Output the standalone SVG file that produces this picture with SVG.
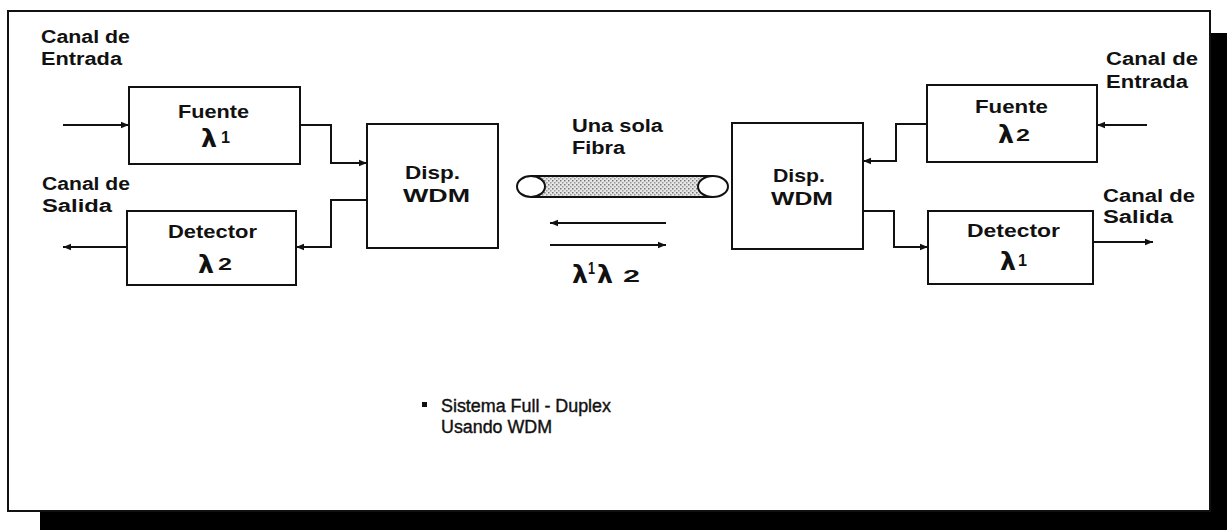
<svg xmlns="http://www.w3.org/2000/svg" width="1227" height="530" viewBox="0 0 1227 530">
<style>
.t{font-family:"Liberation Sans",Arial,sans-serif;font-weight:bold;font-size:18px;fill:#111}
.r{font-family:"Liberation Sans",Arial,sans-serif;font-weight:normal;font-size:18px;fill:#111;stroke:#111;stroke-width:0.4}
.l{font-family:"DejaVu Sans","Liberation Sans",sans-serif;font-weight:bold;font-size:24px;fill:#111}
.n{font-family:"Liberation Sans",Arial,sans-serif;font-weight:bold;font-size:17px;fill:#111}
.box{fill:#fff;stroke:#111;stroke-width:2}
.c{fill:none;stroke:#111;stroke-width:2}
</style>
<defs>
<marker id="ah" viewBox="0 0 10 10" refX="10" refY="5" markerWidth="4" markerHeight="4" orient="auto" markerUnits="strokeWidth">
<path d="M0,1 L10,5 L0,9 z" fill="#111"/>
</marker>
<pattern id="dots" width="4" height="4" patternUnits="userSpaceOnUse">
<rect width="4" height="4" fill="#e6e6e6"/>
<rect x="0" y="0" width="1.5" height="1.5" fill="#777"/>
<rect x="2" y="2" width="1.5" height="1.5" fill="#999"/>
</pattern>
</defs>
<rect x="0" y="0" width="1227" height="530" fill="#fff"/>
<!-- frame and shadow -->
<rect x="1210" y="33" width="17" height="497" fill="#000"/>
<rect x="40" y="512" width="1187" height="18" fill="#000"/>
<rect x="8" y="11" width="1202" height="500" fill="none" stroke="#111" stroke-width="2"/>

<g id="connectors">
<path class="c" d="M63,125 H129" marker-end="url(#ah)"/>
<path class="c" d="M300,125 H331 V163 H367" marker-end="url(#ah)"/>
<path class="c" d="M367,200 H331 V247 H296" marker-end="url(#ah)"/>
<path class="c" d="M127,247 H63" marker-end="url(#ah)"/>
<path class="c" d="M1147,125 H1097" marker-end="url(#ah)"/>
<path class="c" d="M927,124 H896 V161 H863" marker-end="url(#ah)"/>
<path class="c" d="M863,211 H894 V247 H928" marker-end="url(#ah)"/>
<path class="c" d="M1093,242 H1153" marker-end="url(#ah)"/>
<path class="c" d="M666,223 H550" marker-end="url(#ah)"/>
<path class="c" d="M550,245 H666" marker-end="url(#ah)"/>
</g>

<g id="fuente1">
<rect class="box" x="129" y="87" width="171" height="77"/>
<text class="t" x="178" y="118" textLength="71" lengthAdjust="spacingAndGlyphs">Fuente</text>
<text class="l" x="201" y="147" textLength="16" lengthAdjust="spacingAndGlyphs">λ</text>
<text class="n" x="221" y="143" textLength="9" lengthAdjust="spacingAndGlyphs">1</text>
</g>
<g id="detector2">
<rect class="box" x="127" y="211" width="169" height="74"/>
<text class="t" x="168" y="238" textLength="89" lengthAdjust="spacingAndGlyphs">Detector</text>
<text class="l" x="198" y="273" textLength="16" lengthAdjust="spacingAndGlyphs">λ</text>
<text class="n" x="218" y="270" textLength="14" lengthAdjust="spacingAndGlyphs">2</text>
</g>
<g id="wdm1">
<rect class="box" x="367" y="124" width="131" height="124"/>
<text class="t" x="405" y="179" textLength="55" lengthAdjust="spacingAndGlyphs">Disp.</text>
<text class="t" x="403" y="202" textLength="67" lengthAdjust="spacingAndGlyphs">WDM</text>
</g>
<g id="fibra">
<rect x="531" y="176" width="182" height="21" fill="url(#dots)"/>
<line x1="531" y1="176" x2="713" y2="176" class="c"/>
<line x1="531" y1="197" x2="713" y2="197" class="c"/>
<ellipse cx="531" cy="186.5" rx="14" ry="10.5" class="box"/>
<ellipse cx="713" cy="186.5" rx="15" ry="10.5" class="box"/>
<text class="t" x="572" y="132" textLength="91" lengthAdjust="spacingAndGlyphs">Una sola</text>
<text class="t" x="572" y="154" textLength="53" lengthAdjust="spacingAndGlyphs">Fibra</text>
<text class="l" x="572" y="283" font-size="27" textLength="16" lengthAdjust="spacingAndGlyphs">λ</text>
<text class="n" x="588" y="274" font-size="13" textLength="7" lengthAdjust="spacingAndGlyphs">1</text>
<text class="l" x="597" y="283" font-size="27" textLength="16" lengthAdjust="spacingAndGlyphs">λ</text>
<text class="n" x="623" y="282" font-size="22" textLength="17" lengthAdjust="spacingAndGlyphs">2</text>
</g>
<g id="wdm2">
<rect class="box" x="732" y="123" width="131" height="126"/>
<text class="t" x="773" y="182" textLength="52" lengthAdjust="spacingAndGlyphs">Disp.</text>
<text class="t" x="771" y="205" textLength="62" lengthAdjust="spacingAndGlyphs">WDM</text>
</g>
<g id="fuente2">
<rect class="box" x="927" y="85" width="170" height="77"/>
<text class="t" x="975" y="113" textLength="73" lengthAdjust="spacingAndGlyphs">Fuente</text>
<text class="l" x="998" y="143" textLength="16" lengthAdjust="spacingAndGlyphs">λ</text>
<text class="n" x="1016" y="141" textLength="14" lengthAdjust="spacingAndGlyphs">2</text>
</g>
<g id="detector1">
<rect class="box" x="928" y="211" width="165" height="73"/>
<text class="t" x="967" y="237" textLength="93" lengthAdjust="spacingAndGlyphs">Detector</text>
<text class="l" x="1000" y="270" textLength="16" lengthAdjust="spacingAndGlyphs">λ</text>
<text class="n" x="1018" y="266" textLength="9" lengthAdjust="spacingAndGlyphs">1</text>
</g>
<g id="labels">
<text class="t" x="41" y="43" textLength="89" lengthAdjust="spacingAndGlyphs">Canal de</text>
<text class="t" x="41" y="65" textLength="81" lengthAdjust="spacingAndGlyphs">Entrada</text>
<text class="t" x="42" y="190" textLength="88" lengthAdjust="spacingAndGlyphs">Canal de</text>
<text class="t" x="42" y="212" textLength="70" lengthAdjust="spacingAndGlyphs">Salida</text>
<text class="t" x="1106" y="65" textLength="92" lengthAdjust="spacingAndGlyphs">Canal de</text>
<text class="t" x="1106" y="88" textLength="82" lengthAdjust="spacingAndGlyphs">Entrada</text>
<text class="t" x="1103" y="202" textLength="92" lengthAdjust="spacingAndGlyphs">Canal de</text>
<text class="t" x="1103" y="223" textLength="70" lengthAdjust="spacingAndGlyphs">Salida</text>
</g>
<g id="caption">
<rect x="422" y="402" width="5" height="5" fill="#111"/>
<text class="r" x="441" y="412" textLength="170" lengthAdjust="spacingAndGlyphs">Sistema Full - Duplex</text>
<text class="r" x="441" y="433" textLength="111" lengthAdjust="spacingAndGlyphs">Usando WDM</text>
</g>
</svg>
